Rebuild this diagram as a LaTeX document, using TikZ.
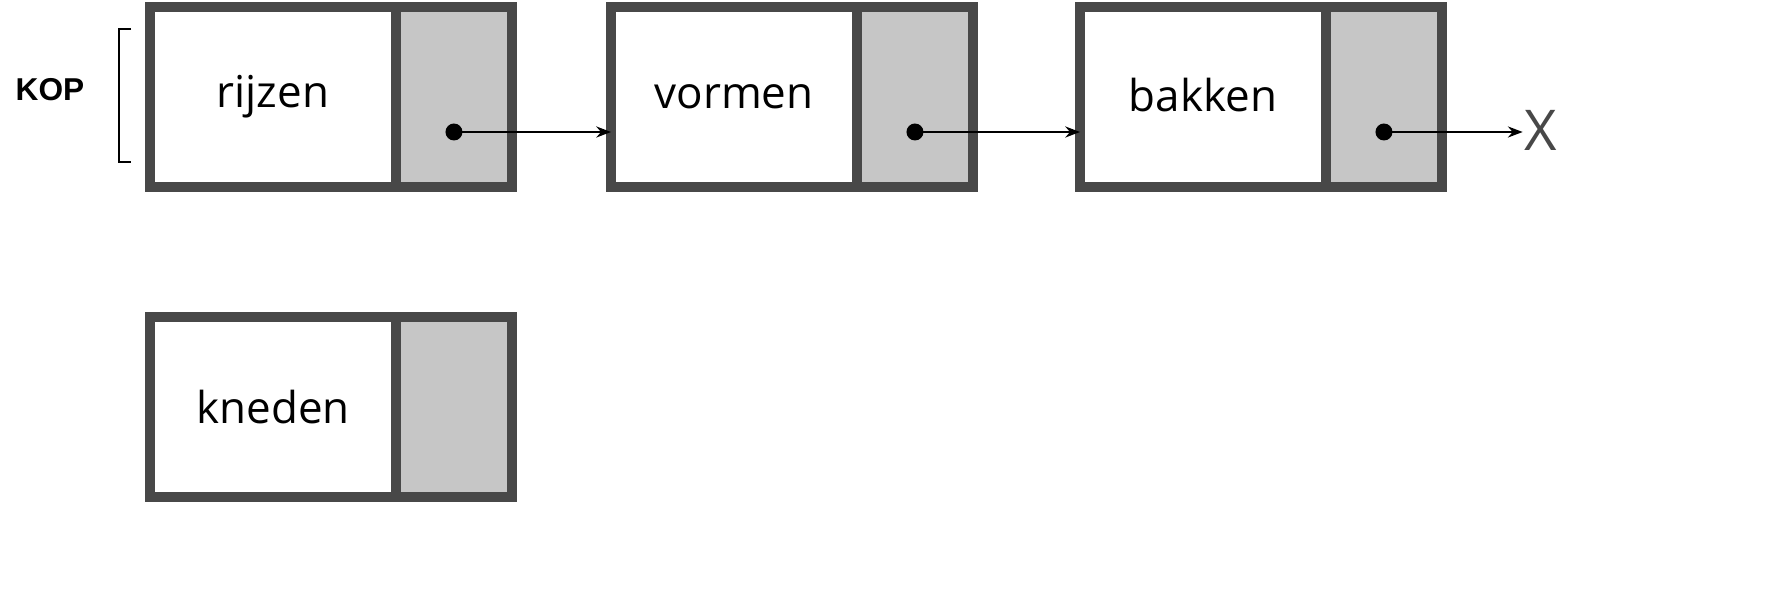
\documentclass[tikz,border=0pt]{standalone}
\usepackage{fontspec}
\setmainfont{Open Sans}
\newfontfamily\kopfont{Liberation Sans}
\usetikzlibrary{arrows.meta, positioning}
\definecolor{rand}{HTML}{484848}
\definecolor{vak}{HTML}{C6C6C6}

\begin{document}
\begin{tikzpicture}[x=0.02cm, y=-0.02cm, >=Stealth,
			cel/.style={draw=rand, line width=0.2cm, outer sep=0pt, inner sep=0pt,
				minimum height=3.62cm, font=\fontsize{25}{30}\selectfont},
			data/.style={cel, fill=white, minimum width=4.92cm},
			wijzer/.style={cel, fill=vak, minimum width=2.32cm},
			pijl/.style={->, line width=1.2pt},
			punt/.style={circle, fill=black, inner sep=0pt, minimum size=0.34cm},
			node distance=0pt]
			\useasboundingbox (0,0) rectangle (1776,592);
			
			% Cellen van de lijst
			\node[data] (d1) at (273,97) {rijzen};
			\node[wijzer, right=of d1] (w1) {};
			\node[data] (d2) at (734,97) {vormen};
			\node[wijzer, right=of d2] (w2) {};
			\node[data] (d3) at (1203,97) {\raisebox{0.1cm}{bakken}};
			\node[wijzer, right=of d3] (w3) {};
			\node[data] (d4) at (273,407) {kneden};
			\node[wijzer, right=of d4] (w4) {};
			
			% Wijzers
			\node[punt] (p1) at ([yshift=-0.7cm]w1.center) {};
			\node[punt] (p2) at ([yshift=-0.7cm]w2.center) {};
			\node[punt] (p3) at ([yshift=-0.7cm]w3.center) {};
			\node[text=rand, font=\fontsize{32}{36}\selectfont, inner sep=1pt] (x) at (1541,130) {X};
			\draw[pijl] (p1.center) -- (p1 -| d2.west);
			\draw[pijl] (p2.center) -- (p2 -| d3.west);
			\draw[pijl] (p3.center) -- (p3 -| x.west);
			
			% Kop
			\node[font=\kopfont\fontsize{18}{20}\selectfont\bfseries] (kop) at (50,90) {KOP};
			\draw[line width=0.8pt] (131,29) -- (119,29) -- (119,162) -- (131,162);
			
		\end{tikzpicture}
\end{document}
